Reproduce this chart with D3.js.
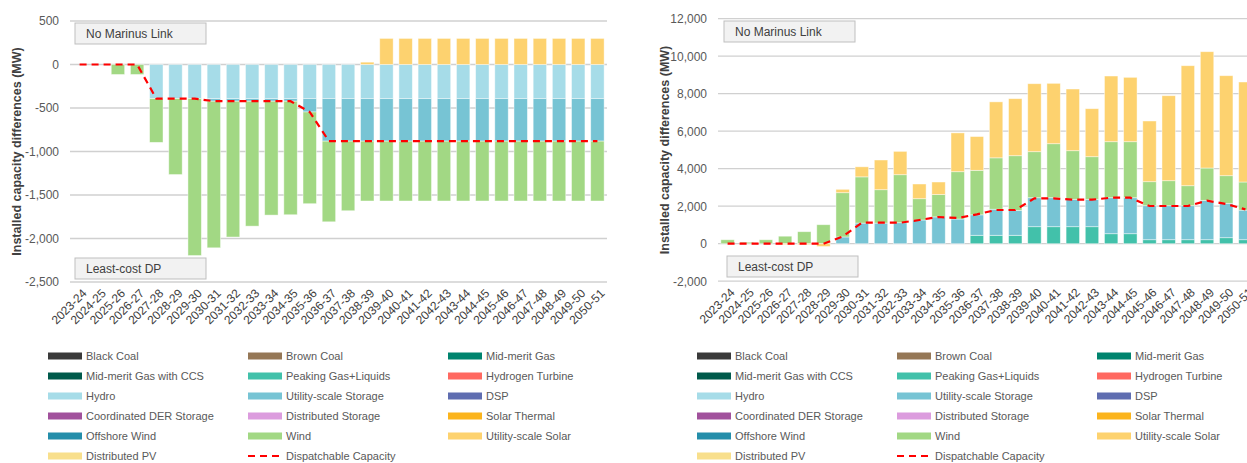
<!DOCTYPE html>
<html>
<head>
<meta charset="utf-8">
<script src="https://cdn.jsdelivr.net/npm/d3@7"></script>
<style>
  html, body { margin: 0; padding: 0; background: #ffffff; }
  svg { display: block; font-family: "Liberation Sans", Arial, sans-serif; }
</style>
</head>
<body>
<svg id="chart" width="1247" height="463"></svg>
<script>
// Financial years on the x axis
const categories = [
  "2023-24","2024-25","2025-26","2026-27","2027-28","2028-29","2029-30",
  "2030-31","2031-32","2032-33","2033-34","2034-35","2035-36","2036-37",
  "2037-38","2038-39","2039-40","2040-41","2041-42","2042-43","2043-44",
  "2044-45","2045-46","2046-47","2047-48","2048-49","2049-50","2050-51"
];

// Technology series, in stacking / legend order
const seriesNames = [
  "Black Coal","Brown Coal","Mid-merit Gas","Mid-merit Gas with CCS",
  "Peaking Gas+Liquids","Hydrogen Turbine","Hydro","Utility-scale Storage",
  "DSP","Coordinated DER Storage","Distributed Storage","Solar Thermal",
  "Offshore Wind","Wind","Utility-scale Solar","Distributed PV"
];
const seriesColors = [
  "#3a3a3a","#957756","#00846e","#005a4b",
  "#42c1aa","#ff6961","#a6dce8","#77c4d4",
  "#5f6db0","#a1519c","#dc9cde","#fbb41c",
  "#248eaa","#a2d884","#fdd26f","#f8df8c"
];
const dispatchName = "Dispatchable Capacity";

// Left panel: installed capacity differences (MW)
const leftHydro = [0,0,0,0,-392,-392,-392,-392,-392,-392,-392,-392,-392,-392,
  -392,-392,-392,-392,-392,-392,-392,-392,-392,-392,-392,-392,-392,-392];
const leftStorage = [0,0,0,0,0,0,0,-30,-30,-30,-30,-30,-154,-489,
  -489,-489,-489,-489,-489,-489,-489,-489,-489,-489,-489,-489,-489,-489];
const leftWind = [0,0,-115,-115,-503,-873,-1804,-1685,-1561,-1436,-1309,-1305,-1054,-927,
  -800,-688,-688,-688,-688,-688,-688,-688,-688,-688,-688,-688,-688,-688];
const leftSolar = [0,0,0,0,0,0,0,0,0,0,0,0,0,0,
  0,27,300,300,300,300,300,300,300,300,300,300,300,300];
const leftDispatch = [0,0,0,0,-392,-392,-392,-422,-422,-422,-422,-422,-546,-881,
  -881,-881,-881,-881,-881,-881,-881,-881,-881,-881,-881,-881,-881,-881];
const leftTicks = [500,0,-500,-1000,-1500,-2000,-2500];

// Right panel: installed capacity differences (MW)
const rightPeaking = [0,0,0,0,0,0,0,0,0,0,0,0,0,448,
  448,448,907,907,907,907,533,533,213,213,213,213,320,213];
const rightStorage = [0,0,0,0,0,0,360,1100,1100,1120,1264,1430,1317,1092,
  1392,1332,1546,1546,1461,1461,1920,1920,1814,1814,1814,2100,1833,1577];
const rightWind = [210,80,210,400,640,1013,2360,2465,1780,2560,1136,1190,2523,2374,
  2740,2913,2454,2880,2592,2272,2987,2987,1280,1333,1066,1724,1474,1500];
const rightSolar = [0,0,0,-50,-50,-150,180,535,1584,1245,784,670,2070,1801,
  2985,3042,3626,3220,3290,2560,3503,3433,3237,4533,6400,6203,5333,5334];
const rightDispatch = [0,0,0,0,0,0,380,1120,1120,1120,1264,1424,1370,1566,
  1797,1797,2420,2420,2347,2347,2453,2453,2010,2010,2010,2293,2117,1833];
const rightTicks = [12000,10000,8000,6000,4000,2000,0,-2000];

const svg = d3.select("#chart");
svg.append("rect").attr("width", 1247).attr("height", 463).attr("fill", "#ffffff");

function buildRows(parts) {
  return categories.map((c, i) => {
    const row = { category: c };
    seriesNames.forEach(n => { row[n] = parts[n] ? parts[n][i] : 0; });
    return row;
  });
}

const fmt = d => d3.format(",")(d).replace("\u2212", "-");

function drawPanel(opts) {
  const g = svg.append("g");
  const x = d3.scaleBand()
    .domain(categories)
    .range([opts.left, opts.left + 537])
    .paddingInner(0.3)
    .paddingOuter(0.15);
  const y = d3.scaleLinear().domain(opts.domain).range([opts.bottom, opts.top]);

  // horizontal gridlines
  g.append("g").selectAll("line")
    .data(opts.ticks)
    .join("line")
    .attr("x1", opts.left).attr("x2", opts.left + 537)
    .attr("y1", d => y(d)).attr("y2", d => y(d))
    .attr("stroke", "#d0d0d0").attr("stroke-width", 1.3);

  // y axis labels
  const yAxis = g.append("g")
    .attr("transform", `translate(${opts.left},0)`)
    .call(d3.axisLeft(y).tickValues(opts.ticks).tickSize(0).tickPadding(11).tickFormat(fmt));
  yAxis.select(".domain").remove();
  yAxis.selectAll("text")
    .attr("fill", "#595959").attr("font-size", 12)
    .attr("font-family", "Liberation Sans, Arial, sans-serif");

  // stacked bars
  const rows = buildRows(opts.parts);
  const stack = d3.stack().keys(seriesNames).offset(d3.stackOffsetDiverging);
  const layers = stack(rows);
  g.append("g").selectAll("g")
    .data(layers)
    .join("g")
    .attr("fill", (d, i) => seriesColors[i])
    .selectAll("rect")
    .data(d => d.filter(s => s[1] - s[0] !== 0))
    .join("rect")
    .attr("x", d => x(d.data.category))
    .attr("width", x.bandwidth())
    .attr("y", d => y(Math.max(d[0], d[1])))
    .attr("height", d => Math.abs(y(d[0]) - y(d[1])))
    .attr("stroke", "#ffffff").attr("stroke-opacity", 0.55).attr("stroke-width", 0.8);

  // dispatchable capacity line
  const line = d3.line()
    .x((d, i) => x(categories[i]) + x.bandwidth() / 2)
    .y(d => y(d));
  g.append("path")
    .datum(opts.dispatch)
    .attr("d", line)
    .attr("fill", "none")
    .attr("stroke", "#ff0000")
    .attr("stroke-width", 2.2)
    .attr("stroke-dasharray", "7,5");

  // x axis labels
  const xAxis = g.append("g")
    .attr("transform", `translate(0,${opts.bottom})`)
    .call(d3.axisBottom(x).tickSize(0).tickPadding(0));
  xAxis.select(".domain").remove();
  xAxis.selectAll("text")
    .attr("y", 0).attr("dy", "0.35em")
    .attr("text-anchor", "end")
    .attr("transform", "translate(5,9) rotate(-45)")
    .attr("fill", "#404040").attr("font-size", 12)
    .attr("font-family", "Liberation Sans, Arial, sans-serif");

  // y axis title
  g.append("text")
    .attr("transform", `translate(${opts.titleX},${(opts.top + opts.bottom) / 2}) rotate(-90)`)
    .attr("text-anchor", "middle")
    .attr("font-size", 12.5).attr("font-weight", "bold").attr("fill", "#404040")
    .text("Installed capacity differences (MW)");

  // scenario label boxes
  opts.boxes.forEach(b => {
    g.append("rect")
      .attr("x", b.x).attr("y", b.y).attr("width", 131).attr("height", 21)
      .attr("fill", "#f2f2f2").attr("stroke", "#bfbfbf").attr("stroke-width", 1);
    g.append("text")
      .attr("x", b.x + 11).attr("y", b.y + 15)
      .attr("font-size", 12).attr("fill", "#404040")
      .text(b.label);
  });

  // legend
  const items = seriesNames.map((n, i) => ({ name: n, color: seriesColors[i], dashed: false }));
  items.push({ name: dispatchName, color: "#ff0000", dashed: true });
  const lg = g.append("g");
  items.forEach((it, i) => {
    const col = i % 3, row = Math.floor(i / 3);
    const lx = opts.legendX + col * 200;
    const ly = 356 + row * 20;
    if (it.dashed) {
      lg.append("line")
        .attr("x1", lx).attr("x2", lx + 34).attr("y1", ly).attr("y2", ly)
        .attr("stroke", it.color).attr("stroke-width", 2.2).attr("stroke-dasharray", "7,5");
    } else {
      lg.append("rect")
        .attr("x", lx).attr("y", ly - 3.5).attr("width", 34).attr("height", 7)
        .attr("fill", it.color);
    }
    lg.append("text")
      .attr("x", lx + 38).attr("y", ly).attr("dy", "0.35em")
      .attr("font-size", 11).attr("fill", "#595959")
      .text(it.name);
  });
}

drawPanel({
  left: 70, top: 21, bottom: 282, domain: [-2500, 500], ticks: leftTicks,
  titleX: 21, legendX: 48,
  parts: {
    "Hydro": leftHydro, "Utility-scale Storage": leftStorage,
    "Wind": leftWind, "Utility-scale Solar": leftSolar
  },
  dispatch: leftDispatch,
  boxes: [{ x: 75, y: 23, label: "No Marinus Link" }, { x: 75, y: 258, label: "Least-cost DP" }]
});

drawPanel({
  left: 718, top: 18.7, bottom: 281.2, domain: [-2000, 12000], ticks: rightTicks,
  titleX: 669, legendX: 697,
  parts: {
    "Peaking Gas+Liquids": rightPeaking, "Utility-scale Storage": rightStorage,
    "Wind": rightWind, "Utility-scale Solar": rightSolar
  },
  dispatch: rightDispatch,
  boxes: [{ x: 724, y: 21, label: "No Marinus Link" }, { x: 727, y: 256, label: "Least-cost DP" }]
});
</script>
</body>
</html>
